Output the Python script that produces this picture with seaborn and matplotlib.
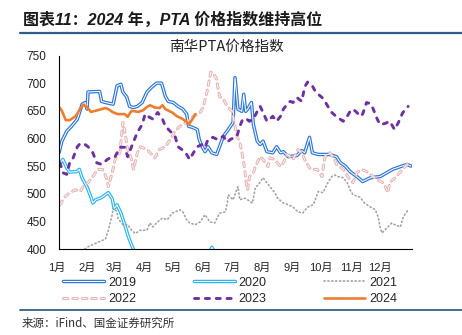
import numpy as np
import pandas as pd
import matplotlib
matplotlib.use("Agg")
import matplotlib.pyplot as plt
import matplotlib.patheffects as pe
from matplotlib.lines import Line2D
import matplotlib.transforms as mtransforms
import seaborn as sns

# ---- data: day of year -> 南华PTA价格指数 ----
day_2019 = [0, 3, 8, 13, 19, 24, 27, 29, 30, 42, 44, 48, 56, 60, 64, 66, 70, 73, 77, 81,
            86, 91, 96, 101, 106, 110, 113, 118, 123, 128, 132, 134, 138, 143, 145, 148, 151, 154, 158, 163,
            166, 170, 175, 180, 182, 185, 189, 191, 193, 195, 199, 201, 205, 208, 211, 215, 221, 225, 229, 232,
            237, 246, 251, 254, 259, 262, 268, 280, 287, 291, 296, 301, 308, 314, 322, 332, 345, 353, 360, 364]
val_2019 = [574, 595, 613, 622, 635, 662, 665, 653, 684, 685, 667, 665, 662, 695, 698, 684, 675, 658, 656, 658,
            665, 684, 693, 700, 700, 676, 667, 665, 658, 653, 644, 622, 620, 616, 598, 585, 576, 585, 574, 571,
            585, 604, 616, 629, 710, 653, 649, 680, 649, 653, 665, 625, 595, 589, 595, 576, 574, 585, 574, 576,
            567, 569, 578, 574, 602, 574, 571, 571, 567, 556, 550, 540, 531, 522, 529, 531, 544, 549, 553, 550]

day_2020 = [0, 4, 8, 11, 18, 21, 24, 29, 33, 35, 38, 44, 51, 55, 57, 60, 64, 68, 71, 75,
            78, 84, 94, 115, 141, 156, 158, 161, 177, 208, 270, 364]
val_2020 = [551, 562, 547, 539, 540, 544, 528, 512, 494, 483, 489, 493, 502, 491, 473, 480, 465, 444, 426, 407,
            396, 380, 365, 360, 380, 396, 403, 394, 385, 385, 375, 390]

day_2021 = [20, 30, 40, 48, 51, 55, 56, 60, 61, 66, 71, 75, 79, 84, 91, 94, 97, 102, 107, 112, 117,
            120, 125, 128, 132, 135, 141, 146, 151, 156, 161, 166, 172, 174, 175, 180, 185, 187, 192, 195, 200,
            203, 206, 211, 215, 218, 223, 226, 232, 237, 242, 247, 252, 257, 263, 265, 268, 273, 278, 282, 285,
            288, 294, 298, 301, 304, 311, 316, 322, 327, 330, 332, 334, 339, 344, 347, 353, 356, 361]
val_2021 = [392, 404, 412, 418, 434, 462, 474, 468, 455, 444, 444, 434, 428, 434, 434, 447, 440, 449, 456, 453, 465,
            467, 471, 467, 453, 447, 444, 449, 462, 449, 447, 465, 467, 483, 498, 489, 513, 489, 492, 489, 483,
            511, 516, 529, 520, 513, 502, 492, 483, 480, 476, 467, 465, 476, 480, 489, 504, 502, 520, 531, 534,
            531, 529, 520, 507, 498, 494, 483, 476, 471, 458, 440, 429, 438, 447, 444, 440, 458, 471]

day_2022 = [1, 6, 11, 17, 22, 25, 30, 35, 40, 45, 50, 51, 55, 58, 63, 66, 68, 71, 75, 77,
            81, 84, 91, 96, 99, 104, 110, 115, 120, 125, 132, 139, 146, 149, 153, 157, 159, 163, 164, 166,
            170, 174, 179, 181, 184, 187, 190, 192, 194, 195, 197, 201, 203, 208, 211, 216, 218, 223, 229, 232,
            236, 242, 247, 251, 254, 260, 267, 272, 275, 280, 285, 287, 294, 301, 304, 308, 313, 318, 322, 329,
            335, 339, 340, 342, 349, 355, 360, 363]
val_2022 = [480, 494, 502, 507, 504, 513, 520, 531, 544, 544, 525, 513, 538, 562, 574, 629, 613, 580, 562, 544,
            574, 585, 580, 571, 565, 580, 585, 598, 613, 622, 629, 640, 647, 656, 684, 720, 720, 707, 695, 676,
            671, 658, 649, 630, 604, 593, 567, 544, 513, 507, 531, 538, 549, 567, 562, 549, 565, 562, 549, 556,
            571, 562, 580, 574, 562, 544, 544, 531, 567, 574, 562, 553, 544, 525, 520, 538, 544, 540, 535, 525,
            520, 507, 502, 520, 531, 544, 553, 550]

day_2023 = [1, 4, 8, 11, 14, 19, 22, 27, 30, 35, 39, 44, 50, 55, 58, 63, 68, 71, 75, 81,
            86, 89, 92, 97, 102, 107, 110, 115, 120, 123, 127, 132, 135, 139, 143, 148, 151, 154, 159, 164,
            170, 174, 177, 184, 187, 190, 194, 197, 201, 205, 208, 211, 215, 218, 221, 225, 229, 232, 236, 239,
            242, 246, 251, 254, 257, 262, 265, 268, 272, 275, 278, 282, 287, 294, 298, 301, 304, 308, 311, 314,
            318, 322, 325, 329, 332, 337, 342, 347, 351, 355, 358, 361]
val_2023 = [556, 538, 535, 556, 562, 585, 591, 589, 585, 574, 556, 553, 562, 567, 567, 584, 584, 567, 585, 611,
            625, 644, 640, 635, 647, 635, 622, 613, 604, 585, 580, 571, 562, 574, 585, 589, 584, 598, 602, 598,
            604, 593, 598, 604, 622, 635, 635, 631, 635, 649, 658, 647, 631, 635, 640, 631, 640, 653, 662, 667,
            665, 674, 667, 693, 702, 695, 685, 680, 674, 667, 658, 647, 639, 631, 640, 649, 653, 647, 640, 644,
            665, 663, 653, 635, 625, 627, 631, 616, 629, 645, 653, 658]

day_2024 = [0, 3, 7, 11, 17, 25, 29, 33, 40, 48, 51, 56, 61, 68, 71, 75, 82, 87, 91, 94,
            99, 104, 107, 110, 117, 122, 127, 132, 134, 138, 141]
val_2024 = [657, 650, 633, 633, 640, 661, 657, 648, 651, 655, 653, 647, 644, 644, 639, 650, 648, 651, 657, 660,
            656, 655, 660, 653, 647, 640, 636, 630, 625, 635, 644]

month_start = [0, 31, 59, 90, 120, 151, 181, 212, 243, 273, 304, 334, 365]
month_labels = ["1月", "2月", "3月", "4月", "5月", "6月", "7月", "8月", "9月", "10月", "11月", "12月"]
y_ticks = [400, 450, 500, 550, 600, 650, 700, 750]

header = "图表11：2024 年，PTA 价格指数维持高位"
chart_title = "南华PTA价格指数"
source = "来源：iFind、国金证券研究所"

# ---- style ----
sns.set_theme(style="white")
plt.rcParams["font.family"] = ["Liberation Sans", "Noto Sans CJK SC"]
plt.rcParams["lines.scale_dashes"] = False

W, H = 462, 335
fig = plt.figure(figsize=(W / 100, H / 100), dpi=100)
ax = fig.add_axes([59 / W, 1 - 249 / H, (412 - 59) / W, (249 - 55.5) / H])

def double(color, outer=2.5):
    return [pe.Stroke(linewidth=outer, foreground=color), pe.Normal()]

series = [
    ("2019", day_2019, val_2019, dict(color="white", lw=0.75, path_effects=double("#2f78d6"))),
    ("2020", day_2020, val_2020, dict(color="white", lw=0.75, path_effects=double("#2cb6ef"))),
    ("2021", day_2021, val_2021, dict(color="#a3a3a3", lw=1.2, dashes=(0.8, 2.0),
                                      dash_capstyle="round")),
    ("2022", day_2022, val_2022, dict(color="white", lw=0.6, dashes=(3.2, 3.6), dash_capstyle="round",
                                      path_effects=double("#e8b4b4", 2.2))),
    ("2023", day_2023, val_2023, dict(color="#7030a0", lw=2.1, dashes=(3.0, 4.8), dash_capstyle="round")),
    ("2024", day_2024, val_2024, dict(color="#ed7d31", lw=1.9, solid_capstyle="round")),
]

handles = {}
for name, d, v, kw in series:
    df = pd.DataFrame({"day": d, "value": v})
    sns.lineplot(data=df, x="day", y="value", ax=ax, estimator=None, legend=False, **kw)
    handles[name] = ax.get_lines()[-1]

ax.set_xlim(0, 365)
ax.set_ylim(400, 750)
ax.set_xlabel("")
ax.set_ylabel("")
ax.set_xticks(month_start)
ax.set_xticklabels(month_labels + [""])
ax.set_yticks(y_ticks)
ax.set_yticklabels([str(t) for t in y_ticks])
ax.tick_params(axis="x", direction="out", length=4, width=0.8, color="black",
               labelsize=8, labelcolor="#222222", pad=6)
ax.tick_params(axis="y", direction="out", length=4, width=0.8, color="black",
               labelsize=8.5, labelcolor="#222222", pad=5)
shift = mtransforms.ScaledTranslation(-2 / 100, 0, fig.dpi_scale_trans)
for lab in ax.get_xticklabels():
    lab.set_transform(lab.get_transform() + shift)
for s in ["top", "right"]:
    ax.spines[s].set_visible(False)
for s in ["left", "bottom"]:
    ax.spines[s].set_color("black")
    ax.spines[s].set_linewidth(0.8)
ax.grid(False)

# legend: rows 2019/2020/2021 and 2022/2023/2024
order = ["2019", "2022", "2020", "2023", "2021", "2024"]
fig.legend([handles[k] for k in order], order, ncol=3, loc="center left",
           bbox_to_anchor=(63 / W, 1 - 291 / H), frameon=False, fontsize=9,
           handlelength=3.3, handletextpad=0.3, columnspacing=4.6,
           labelspacing=0.35, borderpad=0, borderaxespad=0)

# header, rules, titles
fig.text(23 / W, 1 - 20 / H, header, fontsize=11.5, fontweight="bold", fontstyle="italic",
         color="#1a1a1a", family=["Liberation Sans", "Noto Sans CJK SC"], ha="left", va="center")
fig.add_artist(Line2D([20 / W, 1], [1 - 33 / H, 1 - 33 / H], color="#2f5f86", lw=1.6))
fig.add_artist(Line2D([20 / W, 1], [1 - 310 / H, 1 - 310 / H], color="#2f5f86", lw=1.3))
fig.text(227 / W, 1 - 47 / H, chart_title, fontsize=10.5, color="#222222",
         family=["Noto Sans CJK SC"], ha="center", va="center")
fig.text(22 / W, 1 - 323 / H, source, fontsize=8.3, color="#333333",
         family=["Noto Sans CJK SC"], ha="left", va="center")

fig.savefig("out.png", dpi=100)
